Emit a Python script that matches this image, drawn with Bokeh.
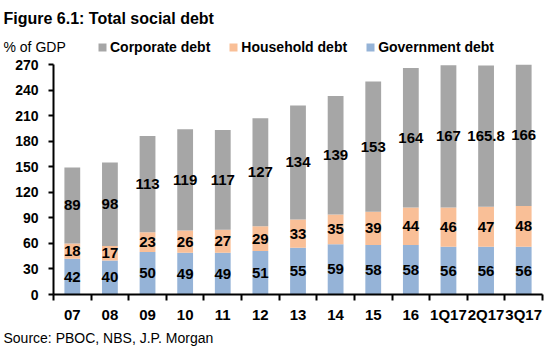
from bokeh.plotting import figure
from bokeh.layouts import column
from bokeh.models import (FixedTicker, Range1d, Legend, LegendItem, Label,
                          ColumnDataSource, LabelSet)
from bokeh.core.properties import value
from bokeh.embed import file_html
from bokeh.resources import INLINE

categories = ["07", "08", "09", "10", "11", "12", "13", "14", "15", "16",
              "1Q17", "2Q17", "3Q17"]
government = [42, 40, 50, 49, 49, 51, 55, 59, 58, 58, 56, 56, 56]
household = [18, 17, 23, 26, 27, 29, 33, 35, 39, 44, 46, 47, 48]
corporate = [89, 98, 113, 119, 117, 127, 134, 139, 153, 164, 167, 165.8, 166]
y_ticks = [0, 30, 60, 90, 120, 150, 180, 210, 240, 270]
series_names = ["Corporate debt", "Household debt", "Government debt"]

FONT = "Liberation Sans"
C_CORP = "#A6A6A6"
C_HH = "#F9BF97"
C_GOV = "#95B3D7"
W = 548


def fmt(v):
    return str(int(v)) if float(v).is_integer() else str(v)


def blank(h):
    f = figure(width=W, height=h, x_range=Range1d(0, W), y_range=Range1d(h, 0),
               output_backend="svg", toolbar_location=None,
               x_axis_location=None, y_axis_location=None,
               min_border_left=0, min_border_right=0, min_border_top=0,
               min_border_bottom=0)
    f.outline_line_color = None
    f.xgrid.visible = False
    f.ygrid.visible = False
    f.frame_align = False
    return f


xs = list(range(len(categories)))
src = ColumnDataSource(dict(
    x=xs,
    government=government,
    household=household,
    corporate=corporate,
    gov_mid=[g / 2 for g in government],
    hh_mid=[g + h / 2 for g, h in zip(government, household)],
    corp_mid=[g + h + c / 2 for g, h, c in zip(government, household, corporate)],
    gov_lbl=[fmt(v) for v in government],
    hh_lbl=[fmt(v) for v in household],
    corp_lbl=[fmt(v) for v in corporate],
))

# ---- header: title, unit, legend
head = blank(56)
head.add_layout(Label(x=3, y=18, text="Figure 6.1: Total social debt",
                      text_font=FONT, text_font_size="16px", text_font_style="bold",
                      text_baseline="middle", text_color="black"))
head.add_layout(Label(x=3, y=46, text="% of GDP", text_font=FONT,
                      text_font_size="14px", text_baseline="middle",
                      text_color="black"))
# legend swatches: zero-width (invisible) bars carrying the series colours
swatch = [head.vbar(x="x", top=col, width=0, fill_color=c, line_color=None, source=src)
          for col, c in (("corporate", C_CORP), ("household", C_HH), ("government", C_GOV))]
legend = Legend(items=[LegendItem(label=n, renderers=[r]) for n, r in zip(series_names, swatch)],
                orientation="horizontal", location=(97, 0),
                glyph_width=10, glyph_height=10, label_standoff=3, spacing=18,
                label_height=18, padding=0, margin=0, border_line_color=None,
                background_fill_alpha=0, label_text_font=FONT,
                label_text_font_size="14px", label_text_font_style="bold",
                label_text_color="black")
head.add_layout(legend)

# ---- main chart
p = figure(width=W, height=269, x_range=Range1d(-0.5, len(categories) - 0.5),
           y_range=Range1d(0, 270), output_backend="svg", toolbar_location=None,
           min_border_left=53, min_border_right=6, min_border_top=8,
           min_border_bottom=30)
p.outline_line_color = None
p.xgrid.visible = False
p.ygrid.visible = False
p.frame_align = False

p.vbar_stack(["government", "household", "corporate"], x="x", width=0.42,
             color=[C_GOV, C_HH, C_CORP], line_color=None, source=src)

for col, txt in [("gov_mid", "gov_lbl"), ("hh_mid", "hh_lbl"), ("corp_mid", "corp_lbl")]:
    p.add_layout(LabelSet(x="x", y=col, text=txt, source=src, text_align="center",
                          text_baseline="middle", text_font=value(FONT),
                          text_font_size="15px", text_font_style="bold",
                          text_color="black"))

ya = p.yaxis[0]
ya.ticker = FixedTicker(ticks=y_ticks)
ya.axis_line_width = 2
ya.axis_line_color = "black"
ya.major_tick_out = 5
ya.major_tick_in = 0
ya.major_tick_line_width = 2
ya.minor_tick_line_color = None
ya.major_label_standoff = 10
ya.major_label_text_font = FONT
ya.major_label_text_font_size = "14px"
ya.major_label_text_font_style = "bold"
ya.major_label_text_color = "black"

xa = p.xaxis[0]
xa.ticker = FixedTicker(ticks=xs, minor_ticks=[i - 0.5 for i in range(len(categories) + 1)])
xa.major_label_overrides = {i: c for i, c in zip(xs, categories)}
xa.axis_line_width = 2
xa.axis_line_color = "black"
xa.major_tick_line_color = None
xa.major_tick_out = 6
xa.minor_tick_out = 6
xa.minor_tick_in = 0
xa.minor_tick_line_width = 2
xa.minor_tick_line_color = "black"
xa.major_label_standoff = 5
xa.major_label_text_font = FONT
xa.major_label_text_font_size = "15px"
xa.major_label_text_font_style = "bold"
xa.major_label_text_color = "black"

# ---- footer: source
foot = blank(26)
foot.add_layout(Label(x=3, y=12, text="Source: PBOC, NBS, J.P. Morgan",
                      text_font=FONT, text_font_size="14px",
                      text_baseline="middle", text_color="black"))

layout = column(head, p, foot, spacing=0)
open("out.html", "w").write(file_html(layout, INLINE))
